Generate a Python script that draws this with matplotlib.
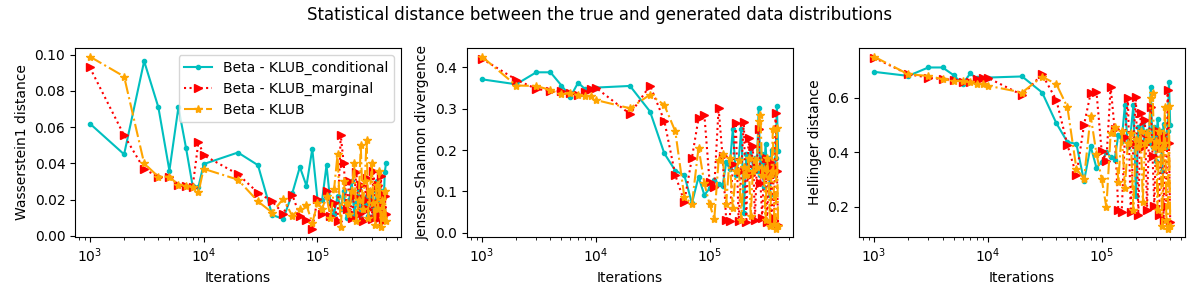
import matplotlib
matplotlib.use("Agg")
import matplotlib.pyplot as plt

iterations = ([1000, 2000, 3000, 4000, 5000, 6000, 7000, 8000, 9000]
              + [10000, 20000, 30000, 40000, 50000, 60000, 70000, 80000, 90000]
              + list(range(100000, 400001, 10000)))

labels = ["Beta - KLUB_conditional", "Beta - KLUB_marginal", "Beta - KLUB"]

# Wasserstein1 distance
w1_cond = [0.062, 0.045, 0.0965, 0.071, 0.036, 0.071, 0.0485, 0.0276, 0.027,
           0.0396, 0.046, 0.039, 0.0115, 0.0093, 0.0234, 0.038, 0.0276, 0.048,
           0.020, 0.020, 0.039, 0.018, 0.012, 0.022, 0.015, 0.025, 0.010, 0.020, 0.030,
           0.012, 0.018, 0.026, 0.009, 0.020, 0.014, 0.022, 0.011, 0.018, 0.025,
           0.010, 0.016, 0.030, 0.012, 0.020, 0.008, 0.025, 0.015, 0.035, 0.040]
w1_marg = [0.093, 0.0555, 0.0368, 0.0326, 0.0326, 0.028, 0.0275, 0.027, 0.052,
           0.0445, 0.034, 0.0238, 0.019, 0.0122, 0.0227, 0.011, 0.0086, 0.004,
           0.0205, 0.012, 0.025, 0.011, 0.018, 0.008, 0.0555, 0.040, 0.015, 0.030,
           0.010, 0.022, 0.035, 0.012, 0.028, 0.008, 0.020, 0.032, 0.015, 0.025,
           0.009, 0.036, 0.018, 0.012, 0.028, 0.010, 0.033, 0.016, 0.008, 0.022, 0.012]
w1_klub = [0.099, 0.088, 0.040, 0.0326, 0.0327, 0.028, 0.0275, 0.027, 0.024,
           0.037, 0.031, 0.019, 0.0128, 0.0205, 0.011, 0.015, 0.017, 0.007,
           0.018, 0.015, 0.022, 0.010, 0.026, 0.045, 0.005, 0.030, 0.018, 0.012,
           0.025, 0.040, 0.008, 0.020, 0.050, 0.015, 0.030, 0.053, 0.010, 0.025,
           0.040, 0.018, 0.006, 0.028, 0.015, 0.036, 0.005, 0.020, 0.010, 0.025, 0.008]

# Jensen-Shannon divergence
js_cond = [0.371, 0.359, 0.388, 0.388, 0.356, 0.329, 0.363, 0.348, 0.348,
           0.351, 0.355, 0.293, 0.192, 0.150, 0.139, 0.071, 0.135, 0.091,
           0.107, 0.128, 0.118, 0.112, 0.170, 0.155, 0.252, 0.140, 0.175, 0.252,
           0.047, 0.190, 0.150, 0.205, 0.160, 0.180, 0.150, 0.302, 0.140, 0.190,
           0.110, 0.215, 0.150, 0.180, 0.090, 0.200, 0.155, 0.140, 0.180, 0.307, 0.198]
js_marg = [0.421, 0.370, 0.348, 0.343, 0.342, 0.337, 0.333, 0.341, 0.348,
           0.351, 0.287, 0.356, 0.271, 0.139, 0.075, 0.181, 0.277, 0.285,
           0.123, 0.110, 0.301, 0.185, 0.030, 0.028, 0.165, 0.265, 0.028, 0.150,
           0.268, 0.025, 0.230, 0.140, 0.210, 0.030, 0.160, 0.250, 0.120, 0.035,
           0.150, 0.180, 0.025, 0.140, 0.170, 0.020, 0.160, 0.035, 0.290, 0.150, 0.018]
js_klub = [0.426, 0.356, 0.355, 0.345, 0.335, 0.337, 0.333, 0.330, 0.330,
           0.321, 0.301, 0.334, 0.309, 0.245, 0.087, 0.069, 0.206, 0.119,
           0.069, 0.033, 0.175, 0.190, 0.070, 0.180, 0.060, 0.150, 0.175, 0.030,
           0.160, 0.140, 0.180, 0.040, 0.150, 0.175, 0.160, 0.270, 0.285, 0.140,
           0.155, 0.030, 0.180, 0.135, 0.015, 0.150, 0.250, 0.020, 0.010, 0.253, 0.015]

# Hellinger distance
h_cond = [0.696, 0.681, 0.712, 0.712, 0.684, 0.651, 0.690, 0.672, 0.672,
          0.675, 0.679, 0.620, 0.507, 0.438, 0.431, 0.294, 0.423, 0.343,
          0.365, 0.400, 0.384, 0.373, 0.464, 0.442, 0.575, 0.420, 0.471, 0.575,
          0.238, 0.492, 0.435, 0.511, 0.450, 0.478, 0.435, 0.640, 0.420, 0.492,
          0.370, 0.524, 0.435, 0.478, 0.333, 0.505, 0.442, 0.420, 0.478, 0.660, 0.502]
h_marg = [0.748, 0.687, 0.675, 0.669, 0.667, 0.660, 0.660, 0.669, 0.674,
          0.674, 0.611, 0.687, 0.592, 0.428, 0.316, 0.501, 0.617, 0.623,
          0.404, 0.370, 0.641, 0.485, 0.188, 0.182, 0.457, 0.600, 0.182, 0.435,
          0.605, 0.171, 0.543, 0.420, 0.518, 0.188, 0.450, 0.567, 0.387, 0.204,
          0.435, 0.478, 0.171, 0.420, 0.464, 0.152, 0.450, 0.204, 0.630, 0.435, 0.144]
h_klub = [0.752, 0.687, 0.681, 0.669, 0.662, 0.662, 0.657, 0.651, 0.651,
          0.645, 0.620, 0.678, 0.651, 0.566, 0.340, 0.303, 0.535, 0.395,
          0.303, 0.198, 0.471, 0.492, 0.292, 0.478, 0.270, 0.435, 0.471, 0.188,
          0.450, 0.420, 0.478, 0.219, 0.435, 0.471, 0.450, 0.600, 0.620, 0.420,
          0.442, 0.188, 0.478, 0.411, 0.131, 0.435, 0.567, 0.152, 0.120, 0.570, 0.131]

panels = [
    ("Wasserstein1 distance", [w1_cond, w1_marg, w1_klub]),
    ("Jensen\u2013Shannon divergence", [js_cond, js_marg, js_klub]),
    ("Hellinger distance", [h_cond, h_marg, h_klub]),
]
styles = [dict(color="c", marker=".", linestyle="-"),
          dict(color="r", marker=">", linestyle=":"),
          dict(color="orange", marker="*", linestyle="-.")]

fig, axes = plt.subplots(1, 3, figsize=(12, 3), dpi=100)
for ax, (ylabel, series) in zip(axes, panels):
    for vals, lab, st in zip(series, labels, styles):
        ax.plot(iterations, vals, label=lab, **st)
    ax.set_xscale("log")
    ax.set_xlabel("Iterations")
    ax.set_ylabel(ylabel)
axes[0].legend(loc="upper right")
fig.suptitle("Statistical distance between the true and generated data distributions")
fig.tight_layout()
fig.savefig("out.png")
